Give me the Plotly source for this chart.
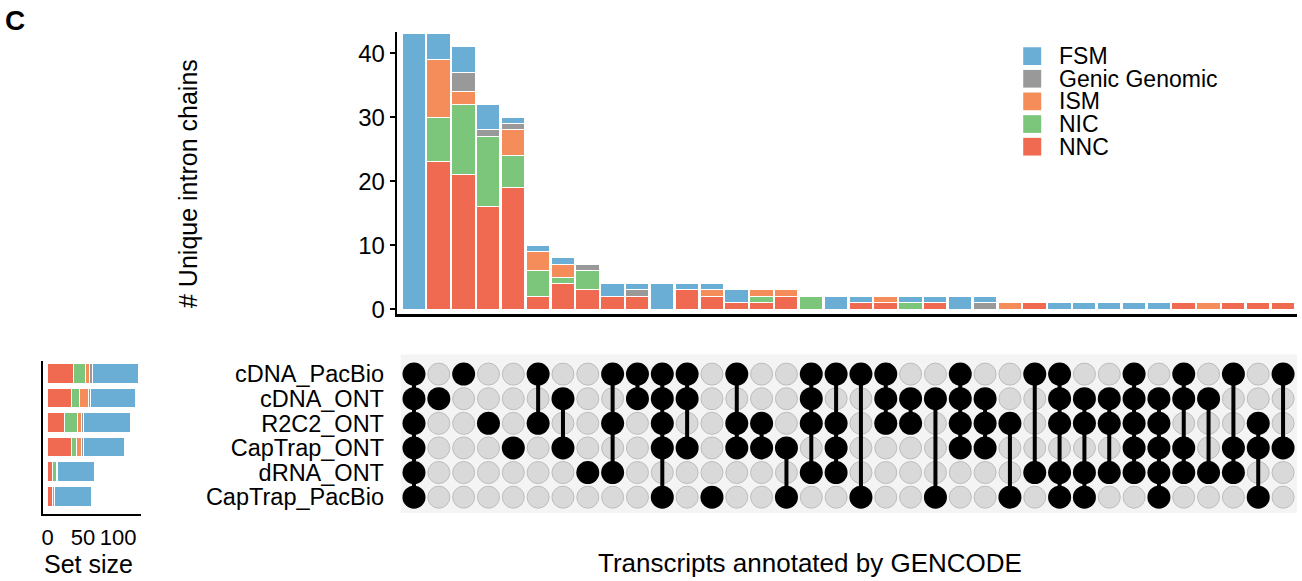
import plotly.graph_objects as go

W, H = 1302, 581

# ---------------- data ----------------
sets = ["cDNA_PacBio", "cDNA_ONT", "R2C2_ONT", "CapTrap_ONT", "dRNA_ONT", "CapTrap_PacBio"]

# membership of each intersection (indices into `sets`), in plotted order
intersections = [
    (0, 1, 2, 3, 4, 5), (1,), (0,), (2,), (3,), (0, 2), (1, 3), (4,), (0, 2, 4), (0, 1),
    (0, 1, 2, 3, 5), (0, 1, 3), (5,), (0, 2, 3), (2, 3), (3, 5), (0, 1, 2, 4), (0, 2, 3, 4), (0, 5), (0, 1, 2),
    (1, 2), (1, 5), (0, 1, 2, 3), (1, 2, 3), (2, 5), (0, 4), (0, 1, 2, 4, 5), (1, 2, 4, 5), (1, 2, 4), (0, 1, 2, 3, 4),
    (1, 2, 3, 4, 5), (0, 1, 3, 4), (1, 4), (0, 3, 4), (2, 3, 5), (0, 3),
]

categories = ["NNC", "NIC", "ISM", "Genic Genomic", "FSM"]   # stacking order (bottom -> top)
legend_order = ["FSM", "Genic Genomic", "ISM", "NIC", "NNC"]
colors = {"FSM": "#6aaed6", "Genic Genomic": "#999999", "ISM": "#f58d5a",
          "NIC": "#7bc67a", "NNC": "#ef6a50"}

FSM = [43, 4, 4, 4, 1, 1, 1, 0, 2, 1, 4, 1, 1, 2, 0, 0, 0, 2, 1, 0, 1, 1, 2, 1, 0, 0, 1, 1, 1, 1, 1, 0, 0, 0, 0, 0]
GG = [0, 0, 3, 1, 1, 0, 0, 1, 0, 1, 0, 0, 0, 0, 0, 0, 0, 0, 0, 0, 0, 0, 0, 1, 0, 0, 0, 0, 0, 0, 0, 0, 0, 0, 0, 0]
ISM = [0, 9, 2, 0, 4, 3, 2, 0, 0, 0, 0, 0, 1, 0, 1, 1, 0, 0, 0, 1, 0, 0, 0, 0, 1, 0, 0, 0, 0, 0, 0, 0, 1, 0, 0, 0]
NIC = [0, 7, 11, 11, 5, 4, 1, 3, 0, 0, 0, 0, 0, 0, 1, 0, 2, 0, 0, 0, 1, 0, 0, 0, 0, 0, 0, 0, 0, 0, 0, 0, 0, 0, 0, 0]
NNC = [0, 23, 21, 16, 19, 2, 4, 3, 2, 2, 0, 3, 2, 1, 1, 2, 0, 0, 1, 1, 0, 1, 0, 0, 0, 1, 0, 0, 0, 0, 0, 1, 0, 1, 1, 1]
values = {"FSM": FSM, "Genic Genomic": GG, "ISM": ISM, "NIC": NIC, "NNC": NNC}

y_ticks = [0, 10, 20, 30, 40]
set_size_ticks = [0, 50, 100]

# ---------------- helpers (layout positions in pixels -> paper) ----------------
def px(x):
    return x / W

def py(y):
    return 1 - y / H

n = len(intersections)
cols = list(range(1, n + 1))
row_val = {i: len(sets) - 1 - i for i in range(len(sets))}

# set sizes = sum over intersections containing the set
set_sizes = {c: [sum(values[c][k] for k in range(n) if s in intersections[k]) for s in range(len(sets))]
             for c in categories}

FONT = "Liberation Sans, Arial, sans-serif"

fig = go.Figure()

# top stacked bars
for c in categories:
    fig.add_trace(go.Bar(x=cols, y=values[c], name=c, marker=dict(color=colors[c], line=dict(color="white", width=1)),
                         width=0.94, xaxis="x", yaxis="y", showlegend=False))

# set size bars
for c in categories:
    fig.add_trace(go.Bar(y=[row_val[i] for i in range(len(sets))], x=set_sizes[c], orientation="h",
                         marker=dict(color=colors[c], line=dict(color="white", width=1)), width=0.8,
                         xaxis="x3", yaxis="y3", showlegend=False, name=c))

# matrix
gx, gy, bx, by, lx, ly = [], [], [], [], [], []
for k, mem in enumerate(intersections):
    for s in range(len(sets)):
        if s in mem:
            bx.append(cols[k]); by.append(row_val[s])
        else:
            gx.append(cols[k]); gy.append(row_val[s])
    if len(mem) > 1:
        lx += [cols[k], cols[k], None]
        ly += [row_val[min(mem)], row_val[max(mem)], None]

fig.add_trace(go.Scatter(x=gx, y=gy, mode="markers", xaxis="x2", yaxis="y2", showlegend=False,
                         marker=dict(size=22, color="#d9d9d9", line=dict(color="#bdbdbd", width=1))))
fig.add_trace(go.Scatter(x=lx, y=ly, mode="lines", xaxis="x2", yaxis="y2", showlegend=False,
                         line=dict(color="black", width=4)))
fig.add_trace(go.Scatter(x=bx, y=by, mode="markers", xaxis="x2", yaxis="y2", showlegend=False,
                         marker=dict(size=23, color="black", line=dict(width=0))))

# axis ranges from pixel geometry
x0_px, x1_px, col1_px, col_step = 396, 1297, 413.3, 24.85
xr = [1 + (x0_px - col1_px) / col_step, 1 + (x1_px - col1_px) / col_step]
y0_px, unit = 314, 6.5
yaxis_bottom, yaxis_top = 318.5, 32
row0_px, row_step = 380, 25.0
mat_top, mat_bot = 360, 523
ss_top, ss_bot = 367, 522

def rv(p):
    return (len(sets) - 1) - (p - row0_px) / row_step

ss0_px, ss_unit = 46.7, 0.705

shapes = [dict(type="rect", xref="paper", yref="paper", x0=px(400), x1=px(1297), y0=py(mat_bot - 2), y1=py(mat_top),
               fillcolor="#f4f4f4", line=dict(width=0), layer="below")]
annotations = [
    dict(text="<b>C</b>", x=px(2), y=py(21), xref="paper", yref="paper", xanchor="left", yanchor="middle",
         showarrow=False, font=dict(size=28, color="black")),
    dict(text="# Unique intron chains", x=px(187), y=py(186), xref="paper", yref="paper", textangle=-90,
         xanchor="center", yanchor="middle", showarrow=False, font=dict(size=25, color="black")),
    dict(text="Transcripts annotated by GENCODE", x=px(810), y=py(572), xref="paper", yref="paper",
         xanchor="center", yanchor="middle", showarrow=False, font=dict(size=26, color="black")),
    dict(text="Set size", x=px(88), y=py(573), xref="paper", yref="paper",
         xanchor="center", yanchor="middle", showarrow=False, font=dict(size=25, color="black")),
]
for i, c in enumerate(legend_order):
    yc = 57 + i * 23
    shapes.append(dict(type="rect", xref="paper", yref="paper", x0=px(1023), x1=px(1041),
                       y0=py(yc + 9), y1=py(yc - 9), fillcolor=colors[c], line=dict(width=0)))
    annotations.append(dict(text=c, x=px(1057), y=py(yc), xref="paper", yref="paper", xanchor="left",
                            yanchor="middle", showarrow=False, font=dict(size=23, color="black")))

fig.update_layout(
    width=W, height=H, margin=dict(l=0, r=0, t=0, b=0),
    paper_bgcolor="white", plot_bgcolor="rgba(0,0,0,0)",
    font=dict(family=FONT, color="black"),
    barmode="stack", bargap=0,
    shapes=shapes, annotations=annotations,
    xaxis=dict(domain=[px(x0_px), px(x1_px)], range=xr, showticklabels=False, ticks="", showgrid=False,
               zeroline=False, showline=True, linecolor="black", linewidth=3, anchor="y"),
    yaxis=dict(domain=[py(yaxis_bottom), py(yaxis_top)],
               range=[(y0_px - yaxis_bottom) / unit, (y0_px - yaxis_top) / unit],
               tickvals=y_ticks, ticks="outside", ticklen=5, tickwidth=2, tickcolor="black",
               showgrid=False, zeroline=False, showline=True, linecolor="black", linewidth=2,
               tickfont=dict(size=24), anchor="x"),
    xaxis2=dict(domain=[px(x0_px), px(x1_px)], range=xr, showticklabels=False, ticks="", showgrid=False,
                zeroline=False, showline=False, anchor="y2"),
    yaxis2=dict(domain=[py(mat_bot), py(mat_top)], range=[rv(mat_bot), rv(mat_top)],
                tickvals=[row_val[i] for i in range(len(sets))], ticktext=sets,
                ticks="outside", ticklen=7, tickcolor="rgba(0,0,0,0)", showgrid=False, zeroline=False,
                showline=False, tickfont=dict(size=23.5), anchor="x2"),
    xaxis3=dict(domain=[px(42), px(140)], range=[(42 - ss0_px) / ss_unit, (140 - ss0_px) / ss_unit],
                tickvals=set_size_ticks, ticks="outside", ticklen=3, tickcolor="rgba(0,0,0,0)",
                showgrid=False, zeroline=False, showline=True, linecolor="black", linewidth=2,
                tickfont=dict(size=22), anchor="y3"),
    yaxis3=dict(domain=[py(ss_bot), py(ss_top)], range=[rv(ss_bot), rv(ss_top)], showticklabels=False, ticks="",
                showgrid=False, zeroline=False, showline=True, linecolor="black", linewidth=2, anchor="x3"),
)

fig.write_html("out.html")
